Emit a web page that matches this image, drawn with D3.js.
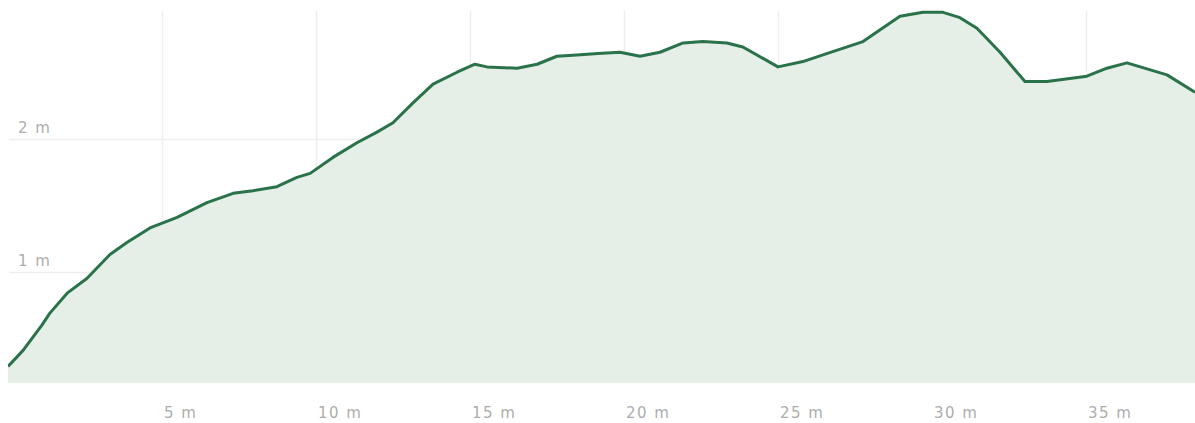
<!DOCTYPE html>
<html>
<head>
<meta charset="utf-8">
<script src="https://cdn.jsdelivr.net/npm/d3@7"></script>
<style>
  html, body { margin: 0; padding: 0; background: #fff; }
  svg { display: block; }
  .tick-label { font-family: "DejaVu Sans", sans-serif; font-size: 15px; fill: #adadad; letter-spacing: 1.5px; }
</style>
</head>
<body>
<svg id="chart" width="1195" height="423"></svg>
<script>
// Distance (m) along the profile
const distance = [0.00, 0.49, 1.10, 1.36, 1.92, 2.56, 3.31, 3.86, 4.61, 5.49, 6.46, 7.31, 7.95, 8.73, 9.38, 9.81,
  10.55, 11.33, 11.98, 12.50, 13.15, 13.80, 14.58, 15.16, 15.55, 16.53, 17.18, 17.82, 18.47, 19.16, 19.87,
  20.52, 21.17, 21.92, 22.56, 23.34, 23.86, 25.00, 25.81, 26.46, 27.76, 28.96, 29.71, 30.36, 30.91, 31.46,
  32.21, 33.02, 33.73, 35.03, 35.68, 36.33, 37.63, 38.54];
// Elevation (m)
const elevation = [0.29, 0.41, 0.60, 0.69, 0.84, 0.95, 1.13, 1.22, 1.33, 1.41, 1.52, 1.59, 1.61, 1.64, 1.71, 1.74,
  1.86, 1.97, 2.05, 2.12, 2.27, 2.41, 2.50, 2.56, 2.54, 2.53, 2.56, 2.62, 2.63, 2.64, 2.65,
  2.62, 2.65, 2.72, 2.73, 2.72, 2.69, 2.54, 2.58, 2.63, 2.73, 2.92, 2.95, 2.95, 2.91, 2.83,
  2.65, 2.43, 2.43, 2.47, 2.53, 2.57, 2.48, 2.35];
const xTicks = [5, 10, 15, 20, 25, 30, 35];
const yTicks = [1, 2];
const xDomain = [0, 38.54];
const yDomain = [0.165, 2.96];

(function () {
  const data = distance.map((d, i) => ({ x: d, y: elevation[i] }));

  const mLeft = 8, mRight = 1195, mTop = 11, mBottom = 383;
  const x = d3.scaleLinear().domain(xDomain).range([mLeft, mRight]);
  const y = d3.scaleLinear().domain(yDomain).range([mBottom, mTop]);

  const svg = d3.select("#chart");

  svg.append("defs").append("clipPath").attr("id", "clip")
    .append("rect").attr("x", mLeft).attr("y", 0).attr("width", mRight - mLeft).attr("height", mBottom);

  // grid
  const grid = svg.append("g");
  grid.selectAll("line.v").data(xTicks).join("line")
    .attr("x1", d => Math.round(x(d)) + 0.5).attr("x2", d => Math.round(x(d)) + 0.5)
    .attr("y1", mTop).attr("y2", mBottom)
    .attr("stroke", "#eeeeee").attr("stroke-width", 1.5);
  grid.selectAll("line.h").data(yTicks).join("line")
    .attr("x1", mLeft + 1).attr("x2", mRight)
    .attr("y1", d => Math.round(y(d)) + 0.5).attr("y2", d => Math.round(y(d)) + 0.5)
    .attr("stroke", "#eeeeee").attr("stroke-width", 1.5);

  const g = svg.append("g").attr("clip-path", "url(#clip)");
  const area = d3.area().x(d => x(d.x)).y0(mBottom).y1(d => y(d.y)).curve(d3.curveLinear);
  const line = d3.line().x(d => x(d.x)).y(d => y(d.y)).curve(d3.curveLinear);

  g.append("path").datum(data).attr("d", area).attr("fill", "#e5efe7");
  g.append("path").datum(data).attr("d", line)
    .attr("fill", "none").attr("stroke", "#2a7249").attr("stroke-width", 3)
    .attr("stroke-linejoin", "round");

  // labels
  svg.selectAll("text.xl").data(xTicks).join("text")
    .attr("class", "tick-label")
    .attr("x", d => x(d) + 2).attr("y", 418)
    .text(d => d + " m");
  svg.selectAll("text.yl").data(yTicks).join("text")
    .attr("class", "tick-label")
    .attr("x", 18).attr("y", d => y(d) - 6)
    .text(d => d + " m");
})();
</script>
</body>
</html>
